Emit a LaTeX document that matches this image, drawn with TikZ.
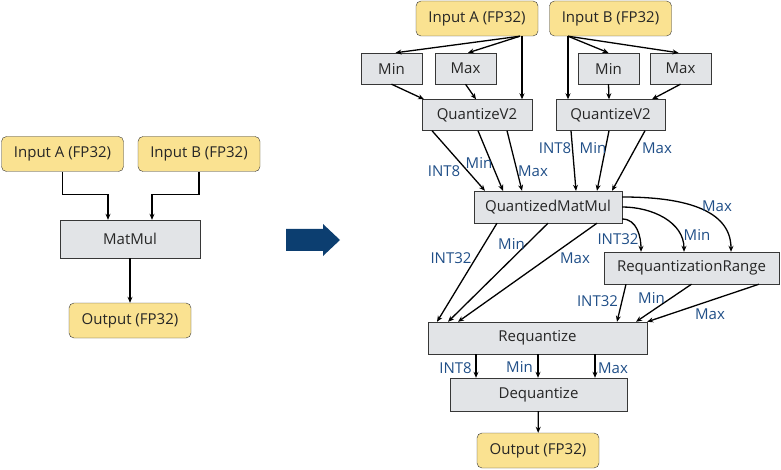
\documentclass[tikz,border=0pt]{standalone}
\usepackage{fontspec}
\setmainfont{Open Sans}
\usetikzlibrary{arrows.meta}
\definecolor{ioyellow}{RGB}{250,226,145}
\definecolor{opgray}{RGB}{226,228,231}
\definecolor{lblblue}{RGB}{31,78,135}
\definecolor{bigblue}{RGB}{12,62,112}
\definecolor{edgegray}{RGB}{55,55,55}

\begin{document}
\begin{tikzpicture}[
                x=1pt, y=-1pt,
                io/.style={draw=edgegray, fill=ioyellow, rounded corners=5pt, minimum width=122pt, minimum height=35pt, inner sep=0pt, text=black!85, font=\fontsize{15}{17}\selectfont},
                op/.style={draw=edgegray, fill=opgray, minimum height=32pt, inner sep=0pt, text=black!85, font=\fontsize{15}{17}\selectfont},
                lbl/.style={text=lblblue, inner sep=0pt, font=\fontsize{15}{17}\selectfont},
                arr/.style={-{Stealth[length=6pt,width=5pt]}, line width=1.3pt}]
            \useasboundingbox (0,0) rectangle (781,470);

            % Graphe original
            \node[io] (inA) at (62.5,154) {Input A (FP32)};
            \node[io] (inB) at (199,154) {Input B (FP32)};
            \node[op, minimum width=140pt, minimum height=38pt] (matmul) at (130,239) {MatMul};
            \node[io] (out) at (130,320.5) {Output (FP32)};

            \draw[arr] (inA.south) -- ++(0,23) -| ([xshift=-22pt]matmul.north);
            \draw[arr] (inB.south) -- ++(0,23) -| ([xshift=22pt]matmul.north);
            \draw[arr] (matmul) -- (out);

            % Grosse fleche
            \fill[bigblue] (286,229) -- (323,229) -- (323,224) -- (340,240) -- (323,256) -- (323,251) -- (286,251) -- cycle;

            % Graphe quantifie
            \node[io] (rinA) at (477,18.5) {Input A (FP32)};
            \node[io] (rinB) at (610.5,18.5) {Input B (FP32)};
            \node[op, minimum width=61pt, minimum height=31pt] (minA) at (391.5,68.5) {Min};
            \node[op, minimum width=61pt, minimum height=31pt] (maxA) at (465.5,68.5) {Max};
            \node[op, minimum width=61pt, minimum height=31pt] (minB) at (608.5,68.5) {Min};
            \node[op, minimum width=61pt, minimum height=31pt] (maxB) at (680.5,68.5) {Max};
            \node[op, minimum width=110pt, minimum height=31pt] (quantA) at (477,115) {QuantizeV2};
            \node[op, minimum width=109pt, minimum height=31pt] (quantB) at (610.5,115) {QuantizeV2};
            \node[op, minimum width=148pt] (qmatmul) at (548,207) {QuantizedMatMul};
            \node[op, minimum width=175pt] (reqrange) at (691.5,268) {RequantizationRange};
            \node[op, minimum width=219pt] (requant) at (537.5,338) {Requantize};
            \node[op, minimum width=177pt, minimum height=33pt] (dequant) at (538.5,394.5) {Dequantize};
            \node[io] (rout) at (538,450.5) {Output (FP32)};

            % Entrees -> Min/Max/QuantizeV2
            \draw[arr] ([xshift=43pt]rinA.south) -- ([xshift=4pt]minA.north);
            \draw[arr] ([xshift=43pt]rinA.south) -- ([xshift=2.5pt]maxA.north);
            \draw[arr] ([xshift=45pt]rinA.south) -- ([xshift=45pt]quantA.north);
            \draw[arr] ([xshift=-42.5pt]rinB.south) -- ([xshift=-42.5pt]quantB.north);
            \draw[arr] ([xshift=-42.5pt]rinB.south) -- (minB.north);
            \draw[arr] ([xshift=-42.5pt]rinB.south) -- ([xshift=-2pt]maxB.north);
            \draw[arr] (minA.south) -- ([xshift=-53pt]quantA.north);
            \draw[arr] (maxA.south) -- ([xshift=-1pt]quantA.north);
            \draw[arr] (minB.south) -- ([xshift=-1.5pt]quantB.north);
            \draw[arr] (maxB.south) -- ([xshift=41.5pt]quantB.north);

            % QuantizeV2 -> QuantizedMatMul
            \draw[arr] ([xshift=-45pt]quantA.south) -- ([xshift=-63pt]qmatmul.north);
            \draw[arr] ([xshift=1pt]quantA.south) -- ([xshift=-45pt]qmatmul.north);
            \draw[arr] ([xshift=30pt]quantA.south) -- ([xshift=-26pt]qmatmul.north);
            \draw[arr] ([xshift=-39.5pt]quantB.south) -- ([xshift=28pt]qmatmul.north);
            \draw[arr] ([xshift=-1.5pt]quantB.south) -- ([xshift=49pt]qmatmul.north);
            \draw[arr] ([xshift=34.5pt]quantB.south) -- ([xshift=64pt]qmatmul.north);
            \node[lbl] (l1) at (444,171) {INT8};
            \node[lbl] (l2) at (479,163) {Min};
            \node[lbl] (l3) at (533,171) {Max};
            \node[lbl] (l4) at (555,148) {INT8};
            \node[lbl] (l5) at (593,148) {Min};
            \node[lbl] (l6) at (657,148) {Max};

            % QuantizedMatMul -> RequantizationRange
            \draw[arr] ([yshift=10pt]qmatmul.east) to[out=0, in=90] ([xshift=39.5pt]reqrange.north);
            \draw[arr] (qmatmul.east) to[out=0, in=90] ([xshift=-7.5pt]reqrange.north);
            \draw[arr] ([yshift=-12pt]qmatmul.east) to[out=0, in=90] ([xshift=-50.5pt]reqrange.north);
            \node[lbl] (l7) at (717,206) {Max};
            \node[lbl] (l8) at (697,235) {Min};
            \node[lbl] (l9) at (618,239) {INT32};

            % QuantizedMatMul -> Requantize
            \draw[arr] ([xshift=-51pt]qmatmul.south) -- ([xshift=-100.5pt]requant.north);
            \draw[arr] (qmatmul.south) -- ([xshift=-89.5pt]requant.north);
            \draw[arr] ([xshift=49pt]qmatmul.south) -- ([xshift=-79.5pt]requant.north);
            \node[lbl] (l10) at (451,258) {INT32};
            \node[lbl] (l11) at (511.5,244) {Min};
            \node[lbl] (l12) at (575,258) {Max};

            % RequantizationRange -> Requantize
            \draw[arr] ([xshift=-65.5pt]reqrange.south) -- ([xshift=79.5pt]requant.north);
            \draw[arr] (reqrange.south) -- ([xshift=98.5pt]requant.north);
            \draw[arr] ([xshift=67.5pt]reqrange.south) -- (requant.north east);
            \node[lbl] (l13) at (597.5,301) {INT32};
            \node[lbl] (l14) at (651.5,297.5) {Min};
            \node[lbl] (l15) at (710,314) {Max};

            % Requantize -> Dequantize -> Output
            \draw[arr] ([xshift=-61.5pt]requant.south) -- ([xshift=-61.5pt]requant.south |- dequant.north);
            \draw[arr] ([xshift=0.5pt]requant.south) -- ([xshift=0.5pt]requant.south |- dequant.north);
            \draw[arr] ([xshift=57.5pt]requant.south) -- ([xshift=57.5pt]requant.south |- dequant.north);
            \node[lbl] (l16) at (455.5,368) {INT8};
            \node[lbl] (l17) at (519.5,367) {Min};
            \node[lbl] (l18) at (613,368) {Max};
            \draw[arr] (dequant) -- (rout);

        \end{tikzpicture}
\end{document}
